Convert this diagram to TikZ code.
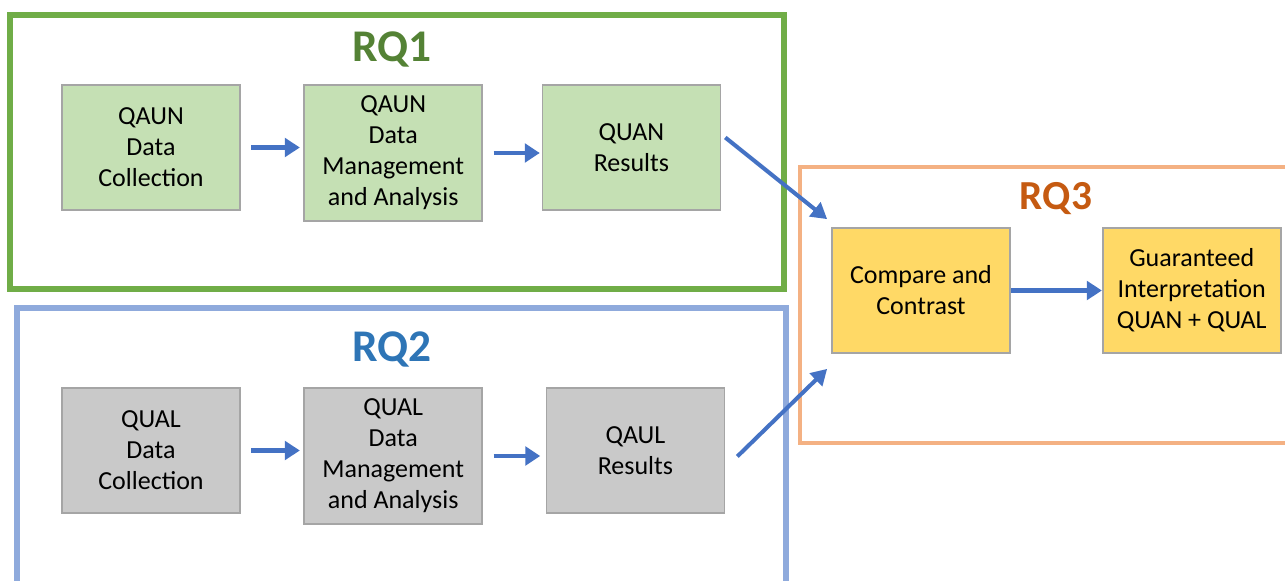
\documentclass[tikz,border=0pt]{standalone}
\usepackage{fontspec}
\setmainfont{Carlito}
\usepackage{tikz}
\usetikzlibrary{arrows.meta,positioning}
\definecolor{rqgreen}{HTML}{70AD47}
\definecolor{rqdarkgreen}{HTML}{548235}
\definecolor{rqlightgreen}{HTML}{C5E0B4}
\definecolor{rqblue}{HTML}{8FAADC}
\definecolor{rqdarkblue}{HTML}{2E75B6}
\definecolor{rqgray}{HTML}{C9C9C9}
\definecolor{rqorange}{HTML}{F4B183}
\definecolor{rqdarkorange}{HTML}{C55A11}
\definecolor{rqyellow}{HTML}{FFD966}
\definecolor{rqarrow}{HTML}{4472C4}
\definecolor{boxgray}{HTML}{A5A5A5}
\newcommand{\rqboxfont}{\fontsize{14.8}{17.6}\selectfont}
\tikzstyle{greenbox} = [rectangle, minimum width=3.56cm, minimum height=2.5cm, text centered, align=center, draw=boxgray, fill=rqlightgreen, line width=1pt, font=\rqboxfont]
\tikzstyle{graybox} = [greenbox, fill=rqgray]
\tikzstyle{yellowbox} = [greenbox, fill=rqyellow]
\tikzstyle{frame} = [line width=3.4pt]
\tikzstyle{rqlabel} = [anchor=base, font=\fontsize{25.8}{30}\selectfont\bfseries]
\tikzstyle{arrow} = [line width=2.8pt, -{Triangle[length=8.5pt,width=10.5pt]}, color=rqarrow]
\tikzstyle{slantarrow} = [line width=2.3pt, -{Triangle[length=9pt,width=10pt]}, color=rqarrow]

\begin{document}
\begin{tikzpicture}[x=0.02cm, y=-0.02cm, node distance=1.25cm]
\useasboundingbox (0,0) rectangle (1285,581);

% Frames
\draw[frame, rqgreen] (10,15) rectangle (784,289);
\draw[frame, rqblue] (17,308) rectangle (786,600);
\draw[frame, line width=2.8pt, rqorange] (800,167) rectangle (1300,443);

% Frame labels
\node (rq1) [rqlabel, text=rqdarkgreen] at (392,62) {RQ1};
\node (rq2) [rqlabel, text=rqdarkblue] at (392,361) {RQ2};
\node (rq3) [rqlabel, text=rqdarkorange, font=\fontsize{23.5}{28}\selectfont\bfseries] at (1056,209) {RQ3};

% RQ1 row
\node (qncoll) [greenbox] at (151,147.5) {QAUN\\Data\\Collection};
\node (qnmgmt) [greenbox, minimum height=2.72cm, right=of qncoll.north east, anchor=north west] {QAUN\\Data\\Management\\and Analysis};
\node (qnres) [greenbox, right=1.17cm of qnmgmt.north east, anchor=north west] {QUAN\\Results};

% RQ2 row
\node (qlcoll) [graybox] at (151,450.5) {QUAL\\Data\\Collection};
\node (qlmgmt) [graybox, minimum height=2.72cm, right=of qlcoll.north east, anchor=north west] {QUAL\\Data\\Management\\and Analysis};
\node (qlres) [graybox, right=of qlmgmt.north east, anchor=north west] {QAUL\\Results};

% RQ3 row
\node (compare) [yellowbox] at (921,290.5) {Compare and\\Contrast};
\node (interp) [yellowbox, right=1.82cm of compare] {Guaranteed\\Interpretation\\QUAN + QUAL};

% Arrows
\draw[arrow, shorten <=6pt, shorten >=2pt] (qncoll.east) -- (qnmgmt.west |- qncoll.east);
\draw[arrow, shorten <=6pt, shorten >=1pt] (qnmgmt.east) -- (qnmgmt.east -| qnres.west);
\draw[arrow, shorten <=6pt, shorten >=2pt] (qlcoll.east) -- (qlmgmt.west |- qlcoll.east);
\draw[arrow, shorten <=6pt, shorten >=3pt] (qlmgmt.east) -- (qlmgmt.east -| qlres.west);
\draw[arrow] (compare.east) -- (interp.west);
\draw[slantarrow] ([shift={(4,-10)}]qnres.east) -- ([shift={(-4,-8)}]compare.north west);
\draw[slantarrow] ([shift={(12,6)}]qlres.east) -- ([shift={(-4,15)}]compare.south west);
\end{tikzpicture}
\end{document}
